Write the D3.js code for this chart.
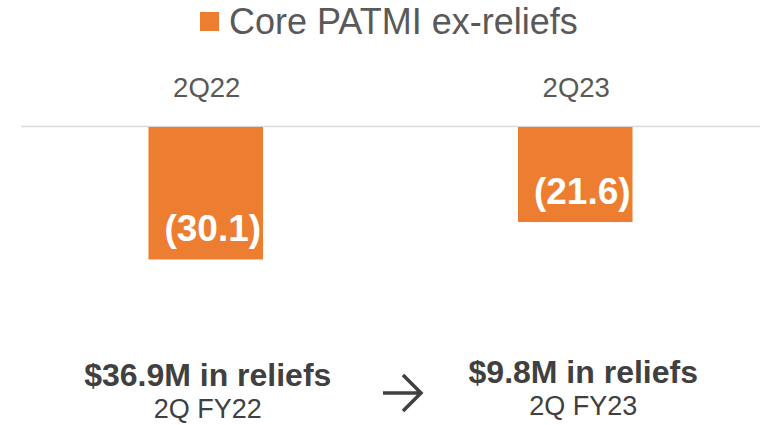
<!DOCTYPE html>
<html>
<head>
<meta charset="utf-8">
<script src="https://cdn.jsdelivr.net/npm/d3@7"></script>
<style>
  html, body { margin: 0; padding: 0; background: #fff; }
  svg { display: block; font-family: 'Liberation Sans', Arial, sans-serif; }
</style>
</head>
<body>
<div id="container"></div>
<script>
const categories = ['2Q22', '2Q23']
const patmiValues = [-30.1, -21.6]
const seriesName = 'Core PATMI ex-reliefs'
const reliefLabels = ['$36.9M in reliefs', '$9.8M in reliefs']
const periodLabels = ['2Q FY22', '2Q FY23']

const width = 772
const height = 425
const orange = '#ED7D31'

const svg = d3.select('#container')
  .append('svg')
  .attr('width', width)
  .attr('height', height)

const xScale = d3.scaleBand()
  .domain(categories)
  .range([21, 760])
  .paddingInner(0.69)
  .paddingOuter(0.345)

const yScale = d3.scaleLinear()
  .domain([0, -35])
  .range([127, 281])

// legend
const legend = svg.append('g')
legend.append('rect')
  .attr('x', 200).attr('y', 12)
  .attr('width', 19).attr('height', 19)
  .attr('fill', orange)
legend.append('text')
  .attr('x', 229).attr('y', 34)
  .attr('font-size', 36)
  .attr('fill', '#595959')
  .text(seriesName)

// category labels on top
svg.append('g')
  .selectAll('text')
  .data(categories)
  .join('text')
  .attr('x', d => xScale(d) + xScale.bandwidth() / 2 + 1)
  .attr('y', 97)
  .attr('text-anchor', 'middle')
  .attr('font-size', 27.5)
  .attr('fill', '#595959')
  .text(d => d)

// axis line
svg.append('line')
  .attr('x1', 21).attr('x2', 760)
  .attr('y1', yScale(0) - 0.5).attr('y2', yScale(0) - 0.5)
  .attr('stroke', '#d9d9d9')
  .attr('stroke-width', 1.5)

// bars
svg.append('g')
  .selectAll('rect')
  .data(patmiValues)
  .join('rect')
  .attr('x', (d, i) => xScale(categories[i]))
  .attr('y', yScale(0))
  .attr('width', xScale.bandwidth())
  .attr('height', d => yScale(d) - yScale(0))
  .attr('fill', orange)

// value labels
svg.append('g')
  .selectAll('text')
  .data(patmiValues)
  .join('text')
  .attr('x', (d, i) => xScale(categories[i]) + xScale.bandwidth() / 2 + 7)
  .attr('y', d => yScale(d) - 18)
  .attr('text-anchor', 'middle')
  .attr('font-size', 37)
  .attr('font-weight', 'bold')
  .attr('fill', '#fff')
  .text(d => `(${Math.abs(d).toFixed(1)})`)

// relief notes
const notes = svg.append('g')
notes.selectAll('text.relief')
  .data(reliefLabels)
  .join('text')
  .attr('class', 'relief')
  .attr('x', (d, i) => xScale(categories[i]) + xScale.bandwidth() / 2 + [2, 8][i])
  .attr('y', (d, i) => [386, 383][i])
  .attr('text-anchor', 'middle')
  .attr('font-size', 32)
  .attr('font-weight', 'bold')
  .attr('fill', '#404040')
  .text(d => d)

notes.selectAll('text.period')
  .data(periodLabels)
  .join('text')
  .attr('class', 'period')
  .attr('x', (d, i) => xScale(categories[i]) + xScale.bandwidth() / 2 + [2, 8][i])
  .attr('y', (d, i) => [418, 415][i])
  .attr('text-anchor', 'middle')
  .attr('font-size', 27)
  .attr('fill', '#404040')
  .text(d => d)

// arrow between the two notes
notes.append('path')
  .attr('transform', 'translate(402,393)')
  .attr('d', 'M-19,0H18M1,-18L19,0L1,18')
  .attr('fill', 'none')
  .attr('stroke', '#404040')
  .attr('stroke-width', 3.5)
</script>
</body>
</html>
